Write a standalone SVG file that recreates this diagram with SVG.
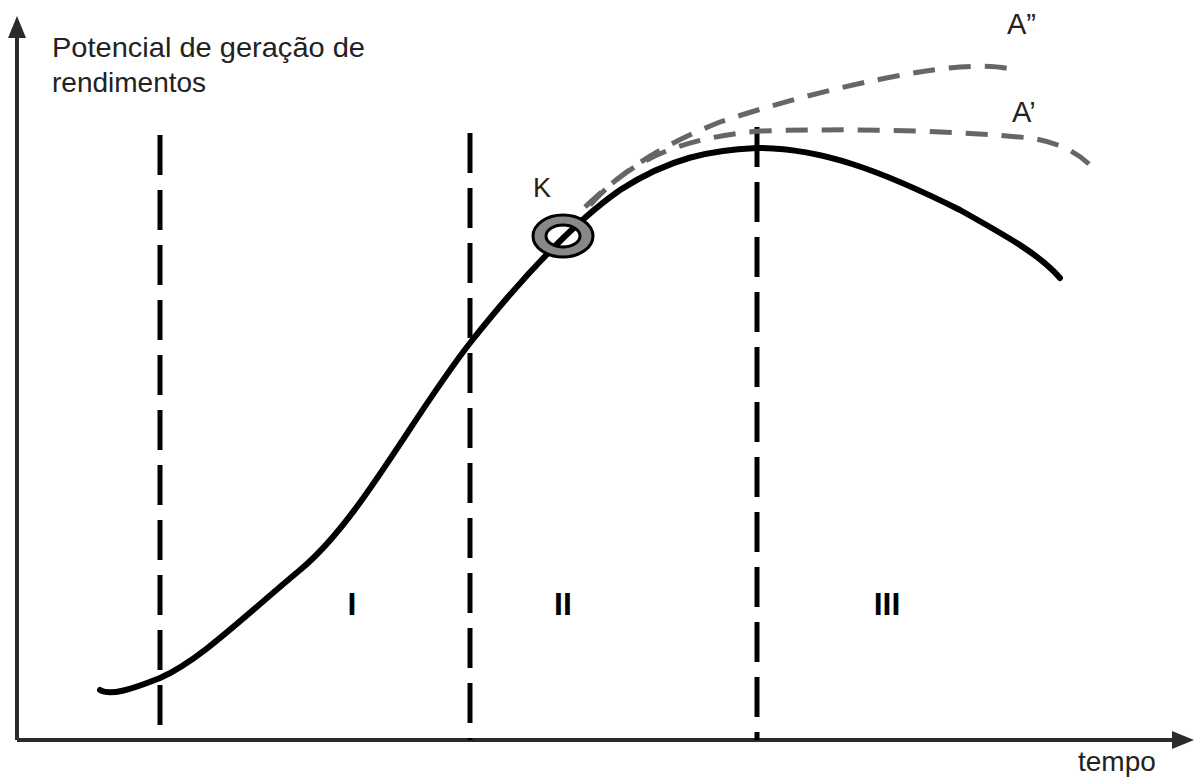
<svg xmlns="http://www.w3.org/2000/svg" width="1198" height="780" viewBox="0 0 1198 780">
<style>
.axis{stroke:#2a2a2a;stroke-width:4;fill:none}
.vdash{stroke:#000;stroke-width:5;stroke-dasharray:40 15;fill:none}
.main{stroke:#000;stroke-width:6;fill:none;stroke-linecap:round}
.alt{stroke:#666;stroke-width:5;stroke-dasharray:22 14;fill:none}
.lbl{font-family:"Liberation Sans",Arial,sans-serif;fill:#222}
.rom{font-family:"Liberation Sans",Arial,sans-serif;font-weight:bold;font-size:32px;fill:#000;text-anchor:middle}
</style>
<rect width="1198" height="780" fill="#fff"/>
<g id="axes">
<path class="axis" d="M17 740 V34 M17 740 H1176"/>
<polygon points="17,16 8,38 26,38" fill="#2a2a2a"/>
<polygon points="1194,740 1172,731 1172,749" fill="#2a2a2a"/>
</g>
<g id="connectors">
<line class="vdash" x1="160" y1="135" x2="160" y2="740"/>
<line class="vdash" x1="470" y1="133" x2="470" y2="740"/>
<line class="vdash" x1="757" y1="127" x2="757" y2="740"/>
<path class="alt" d="M585 207 C620 175 650 150 720 122 C800 95 900 72 960 67 C990 65 1005 67 1017 71"/>
<path class="alt" d="M590 205 C630 160 680 138 760 131 C860 128 960 131 1030 138 C1060 142 1080 155 1090 165"/>
<path class="main" d="M100 690 C110 696 130 690 160 678 C200 660 240 620 300 570 C360 520 410 420 470 343 C520 280 570 225 620 190 C670 158 710 150 757 148 C820 148 880 170 960 210 C1010 238 1040 255 1060 278"/>
</g>
<g id="K">
<path d="M533 236 a30 21 0 1 0 60 0 a30 21 0 1 0 -60 0 Z M546 236 a17 11 0 1 1 34 0 a17 11 0 1 1 -34 0 Z" fill="#888" fill-rule="evenodd" stroke="#000" stroke-width="3"/>
<text class="lbl" x="533" y="197" font-size="27">K</text>
</g>
<g id="labels">
<text class="lbl" x="52" y="57" font-size="28" textLength="313" lengthAdjust="spacingAndGlyphs">Potencial de geração de</text>
<text class="lbl" x="52" y="92" font-size="28">rendimentos</text>
<text class="lbl" x="1078" y="771" font-size="28">tempo</text>
<text class="lbl" x="1007" y="34" font-size="29">A”</text>
<text class="lbl" x="1012" y="122" font-size="29">A’</text>
<text class="rom" x="352" y="615">I</text>
<text class="rom" x="563" y="615">II</text>
<text class="rom" x="887" y="615">III</text>
</g>
</svg>
